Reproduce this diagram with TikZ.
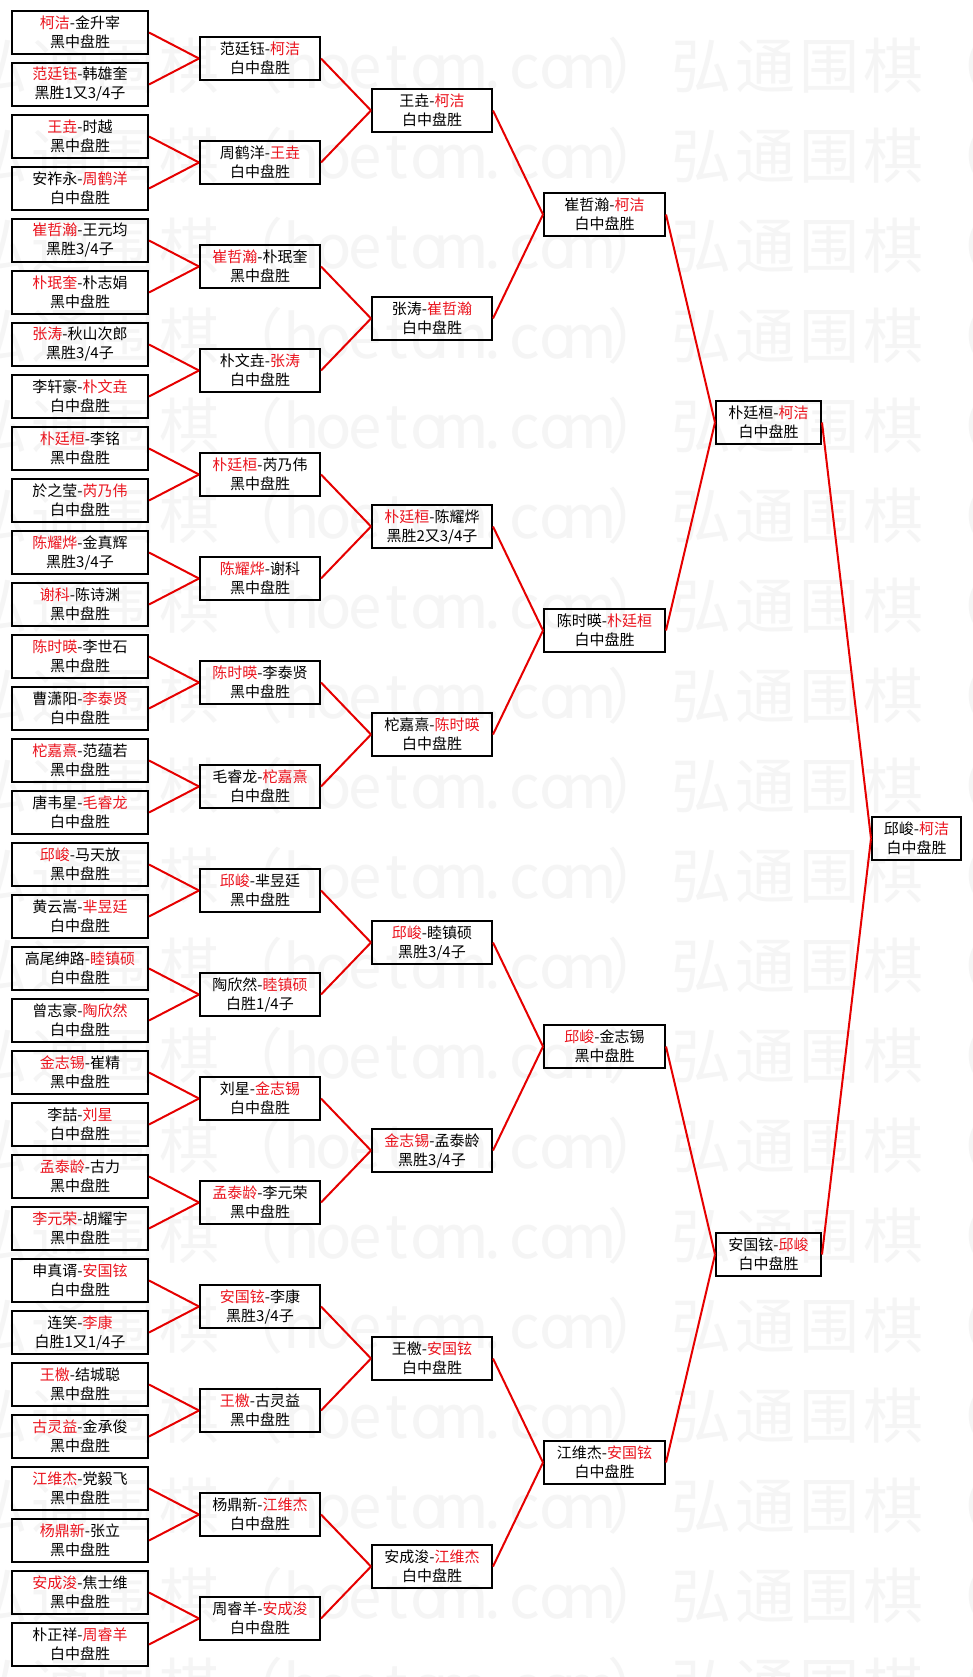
\documentclass[tikz,border=0pt]{standalone}
\usepackage{fontspec}
\setmainfont{Noto Sans CJK SC}
\definecolor{wred}{RGB}{235,20,30}
\definecolor{wline}{RGB}{230,0,0}
\definecolor{wmark}{RGB}{245,245,245}
\newcommand\wn[1]{\textcolor{wred}{#1}}
\newcommand\wmf[1]{\makebox[64pt]{#1}}
\newcommand\wmh[1]{\makebox[32pt]{#1}}
\newcommand\wmtext{\wmf{弘}\wmf{通}\wmf{围}\wmf{棋}\wmf{（}\wmh{h}\wmh{o}\wmh{e}\wmh{t}\wmh{o}\wmh{m}\wmh{.}\wmh{c}\wmh{o}\wmh{m}\wmf{）}}
\tikzset{
  box/.style={draw=black, line width=2pt, inner sep=0pt, align=center,
    minimum height=43pt, font=\fontsize{15}{19}\selectfont},
  c1/.style={box, minimum width=136pt},
  c2/.style={box, minimum width=120pt},
  c3/.style={box, minimum width=120pt},
  c4/.style={box, minimum width=121pt},
  c5/.style={box, minimum width=105pt},
  c6/.style={box, minimum width=89pt},
  conn/.style={draw=wline, line width=2pt},
  wm/.style={text=wmark, inner sep=0pt, anchor=west, font=\fontsize{60}{60}\selectfont}
}
\begin{document}
\begin{tikzpicture}[x=1pt, y=-1pt]
\useasboundingbox (0,0) rectangle (972,1677);
\fill[white] (0,0) rectangle (972,1677);
% watermark
\begin{scope}
\clip (0,0) rectangle (972,1677);
\foreach \r in {0,...,18} {
  \foreach \k in {0,1} {
    \node[wm] (w\r-\k) at ({-35+704*\k},{66+90*\r}) {\wmtext};
  }
}
\end{scope}
% column 1
\node[c1] (a1) at (80,32.5) {\wn{柯洁}-金升宰\\黑中盘胜};
\node[c1] (a2) at (80,84.5) {\wn{范廷钰}-韩雄奎\\黑胜1又3/4子};
\node[c1] (a3) at (80,136.5) {\wn{王垚}-时越\\黑中盘胜};
\node[c1] (a4) at (80,188.5) {安祚永-\wn{周鹤洋}\\白中盘胜};
\node[c1] (a5) at (80,240.5) {\wn{崔哲瀚}-王元均\\黑胜3/4子};
\node[c1] (a6) at (80,292.5) {\wn{朴珉奎}-朴志娟\\黑中盘胜};
\node[c1] (a7) at (80,344.5) {\wn{张涛}-秋山次郎\\黑胜3/4子};
\node[c1] (a8) at (80,396.5) {李轩豪-\wn{朴文垚}\\白中盘胜};
\node[c1] (a9) at (80,448.5) {\wn{朴廷桓}-李铭\\黑中盘胜};
\node[c1] (a10) at (80,500.5) {於之莹-\wn{芮乃伟}\\白中盘胜};
\node[c1] (a11) at (80,552.5) {\wn{陈耀烨}-金真辉\\黑胜3/4子};
\node[c1] (a12) at (80,604.5) {\wn{谢科}-陈诗渊\\黑中盘胜};
\node[c1] (a13) at (80,656.5) {\wn{陈时暎}-李世石\\黑中盘胜};
\node[c1] (a14) at (80,708.5) {曹潇阳-\wn{李泰贤}\\白中盘胜};
\node[c1] (a15) at (80,760.5) {\wn{柁嘉熹}-范蕴若\\黑中盘胜};
\node[c1] (a16) at (80,812.5) {唐韦星-\wn{毛睿龙}\\白中盘胜};
\node[c1] (a17) at (80,864.5) {\wn{邱峻}-马天放\\黑中盘胜};
\node[c1] (a18) at (80,916.5) {黄云嵩-\wn{芈昱廷}\\白中盘胜};
\node[c1] (a19) at (80,968.5) {高尾绅路-\wn{睦镇硕}\\白中盘胜};
\node[c1] (a20) at (80,1020.5) {曾志豪-\wn{陶欣然}\\白中盘胜};
\node[c1] (a21) at (80,1072.5) {\wn{金志锡}-崔精\\黑中盘胜};
\node[c1] (a22) at (80,1124.5) {李喆-\wn{刘星}\\白中盘胜};
\node[c1] (a23) at (80,1176.5) {\wn{孟泰龄}-古力\\黑中盘胜};
\node[c1] (a24) at (80,1228.5) {\wn{李元荣}-胡耀宇\\黑中盘胜};
\node[c1] (a25) at (80,1280.5) {申真谞-\wn{安国铉}\\白中盘胜};
\node[c1] (a26) at (80,1332.5) {连笑-\wn{李康}\\白胜1又1/4子};
\node[c1] (a27) at (80,1384.5) {\wn{王檄}-结城聪\\黑中盘胜};
\node[c1] (a28) at (80,1436.5) {\wn{古灵益}-金承俊\\黑中盘胜};
\node[c1] (a29) at (80,1488.5) {\wn{江维杰}-党毅飞\\黑中盘胜};
\node[c1] (a30) at (80,1540.5) {\wn{杨鼎新}-张立\\黑中盘胜};
\node[c1] (a31) at (80,1592.5) {\wn{安成浚}-焦士维\\黑中盘胜};
\node[c1] (a32) at (80,1644.5) {朴正祥-\wn{周睿羊}\\白中盘胜};
% column 2
\node[c2] (b1) at (260,58.5) {范廷钰-\wn{柯洁}\\白中盘胜};
\node[c2] (b2) at (260,162.5) {周鹤洋-\wn{王垚}\\白中盘胜};
\node[c2] (b3) at (260,266.5) {\wn{崔哲瀚}-朴珉奎\\黑中盘胜};
\node[c2] (b4) at (260,370.5) {朴文垚-\wn{张涛}\\白中盘胜};
\node[c2] (b5) at (260,474.5) {\wn{朴廷桓}-芮乃伟\\黑中盘胜};
\node[c2] (b6) at (260,578.5) {\wn{陈耀烨}-谢科\\黑中盘胜};
\node[c2] (b7) at (260,682.5) {\wn{陈时暎}-李泰贤\\黑中盘胜};
\node[c2] (b8) at (260,786.5) {毛睿龙-\wn{柁嘉熹}\\白中盘胜};
\node[c2] (b9) at (260,890.5) {\wn{邱峻}-芈昱廷\\黑中盘胜};
\node[c2] (b10) at (260,994.5) {陶欣然-\wn{睦镇硕}\\白胜1/4子};
\node[c2] (b11) at (260,1098.5) {刘星-\wn{金志锡}\\白中盘胜};
\node[c2] (b12) at (260,1202.5) {\wn{孟泰龄}-李元荣\\黑中盘胜};
\node[c2] (b13) at (260,1306.5) {\wn{安国铉}-李康\\黑胜3/4子};
\node[c2] (b14) at (260,1410.5) {\wn{王檄}-古灵益\\黑中盘胜};
\node[c2] (b15) at (260,1514.5) {杨鼎新-\wn{江维杰}\\白中盘胜};
\node[c2] (b16) at (260,1618.5) {周睿羊-\wn{安成浚}\\白中盘胜};
% column 3
\node[c3] (c1) at (432,110.5) {王垚-\wn{柯洁}\\白中盘胜};
\node[c3] (c2) at (432,318.5) {张涛-\wn{崔哲瀚}\\白中盘胜};
\node[c3] (c3) at (432,526.5) {\wn{朴廷桓}-陈耀烨\\黑胜2又3/4子};
\node[c3] (c4) at (432,734.5) {柁嘉熹-\wn{陈时暎}\\白中盘胜};
\node[c3] (c5) at (432,942.5) {\wn{邱峻}-睦镇硕\\黑胜3/4子};
\node[c3] (c6) at (432,1150.5) {\wn{金志锡}-孟泰龄\\黑胜3/4子};
\node[c3] (c7) at (432,1358.5) {王檄-\wn{安国铉}\\白中盘胜};
\node[c3] (c8) at (432,1566.5) {安成浚-\wn{江维杰}\\白中盘胜};
% column 4
\node[c4] (d1) at (604.5,214.5) {崔哲瀚-\wn{柯洁}\\白中盘胜};
\node[c4] (d2) at (604.5,630.5) {陈时暎-\wn{朴廷桓}\\白中盘胜};
\node[c4] (d3) at (604.5,1046.5) {\wn{邱峻}-金志锡\\黑中盘胜};
\node[c4] (d4) at (604.5,1462.5) {江维杰-\wn{安国铉}\\白中盘胜};
% column 5
\node[c5] (e1) at (768.5,422.5) {朴廷桓-\wn{柯洁}\\白中盘胜};
\node[c5] (e2) at (768.5,1254.5) {安国铉-\wn{邱峻}\\白中盘胜};
% column 6
\node[c6] (f1) at (916.5,838.5) {邱峻-\wn{柯洁}\\白中盘胜};
% connectors
\foreach \i [evaluate=\i as \p using {int(ceil(\i/2))}] in {1,...,32}
  \draw[conn] (a\i.east) -- (b\p.west);
\foreach \i [evaluate=\i as \p using {int(ceil(\i/2))}] in {1,...,16}
  \draw[conn] (b\i.east) -- (c\p.west);
\foreach \i [evaluate=\i as \p using {int(ceil(\i/2))}] in {1,...,8}
  \draw[conn] (c\i.east) -- (d\p.west);
\foreach \i [evaluate=\i as \p using {int(ceil(\i/2))}] in {1,...,4}
  \draw[conn] (d\i.east) -- (e\p.west);
\draw[conn] (e1.east) -- (f1.west);
\draw[conn] (e2.east) -- (f1.west);
\end{tikzpicture}
\end{document}
